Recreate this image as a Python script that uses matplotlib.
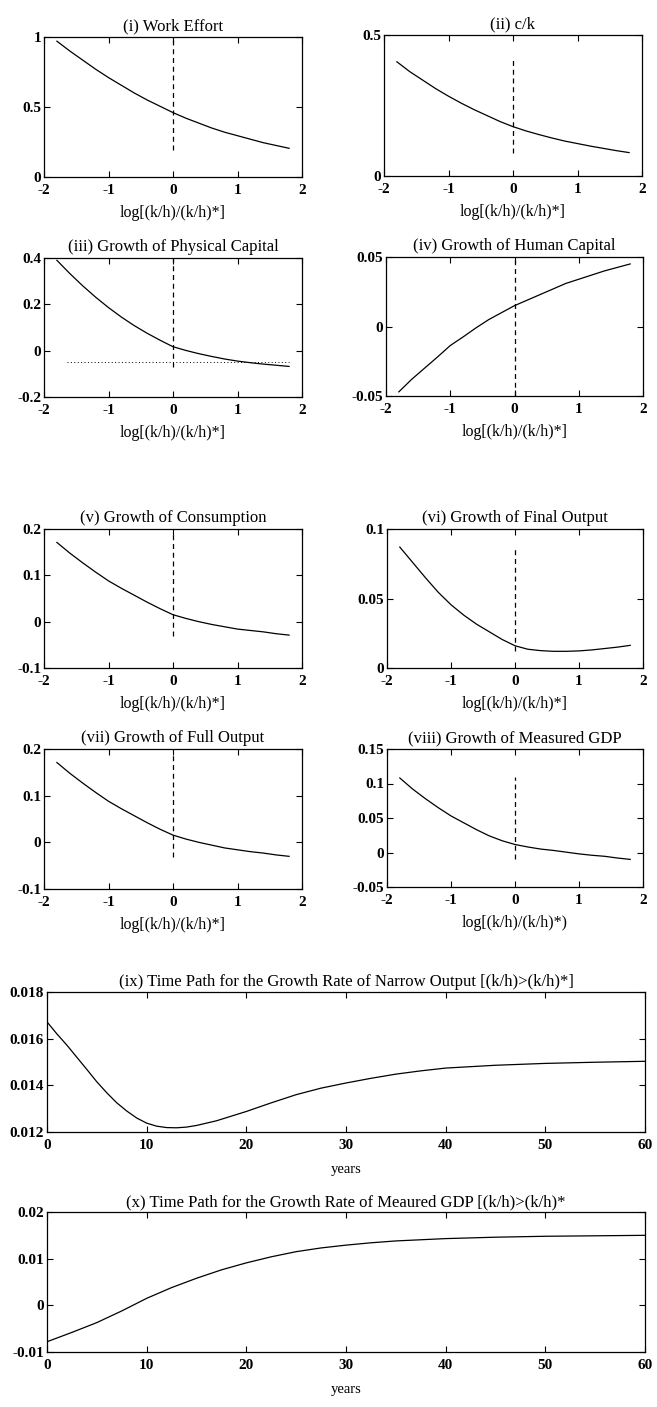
import numpy as np
import matplotlib.pyplot as plt

plt.rcParams['font.family'] = ['Liberation Serif', 'DejaVu Serif']
plt.rcParams['font.size'] = 11

# === DATA ===
x_log = [-1.8, -1.6, -1.4, -1.2, -1.0, -0.8, -0.6, -0.4, -0.2, 0.0,
         0.2, 0.4, 0.6, 0.8, 1.0, 1.2, 1.4, 1.6, 1.8]

work_effort = [0.97, 0.90, 0.835, 0.77, 0.71, 0.655, 0.60, 0.55, 0.505, 0.46,
               0.42, 0.385, 0.35, 0.32, 0.295, 0.27, 0.245, 0.225, 0.205]
c_over_k = [0.405, 0.37, 0.34, 0.31, 0.283, 0.258, 0.235, 0.214, 0.193, 0.175,
            0.16, 0.147, 0.135, 0.124, 0.115, 0.106, 0.098, 0.09, 0.083]
g_phys = [0.39, 0.333, 0.28, 0.231, 0.186, 0.145, 0.108, 0.075, 0.045, 0.017,
          0.001, -0.013, -0.025, -0.036, -0.045, -0.052, -0.058, -0.063, -0.068]
g_human = [-0.047, -0.038, -0.030, -0.022, -0.0137, -0.0075, -0.001, 0.005, 0.010, 0.015,
           0.019, 0.023, 0.027, 0.031, 0.034, 0.037, 0.040, 0.0425, 0.045]
g_cons = [0.171, 0.148, 0.127, 0.107, 0.088, 0.072, 0.057, 0.042, 0.028, 0.015,
          0.007, 0.000, -0.006, -0.011, -0.016, -0.019, -0.022, -0.026, -0.029]
g_final = [0.087, 0.076, 0.065, 0.0545, 0.0455, 0.038, 0.0315, 0.026, 0.0205, 0.016,
           0.0135, 0.0125, 0.012, 0.012, 0.0123, 0.013, 0.014, 0.015, 0.0163]
g_full = [0.171, 0.148, 0.127, 0.107, 0.088, 0.072, 0.057, 0.042, 0.028, 0.0155,
          0.007, 0.000, -0.006, -0.012, -0.016, -0.020, -0.023, -0.027, -0.030]
g_gdp = [0.108, 0.092, 0.078, 0.065, 0.053, 0.043, 0.033, 0.024, 0.017, 0.0116,
         0.008, 0.005, 0.003, 0.0005, -0.002, -0.004, -0.0055, -0.008, -0.010]

phys_dotted_level = -0.048

years_ix = [0, 1, 2, 3, 4, 5, 6, 7, 8, 9, 10, 11, 12, 13, 14, 15, 17, 20,
            22.5, 25, 27.5, 30, 32.5, 35, 37.5, 40, 45, 50, 55, 60]
narrow_out = [0.01672, 0.0162, 0.01572, 0.0152, 0.01468, 0.01415, 0.01368, 0.01325,
              0.0129, 0.0126, 0.01238, 0.01225, 0.01219, 0.01218, 0.01221, 0.01228,
              0.01248, 0.01288, 0.01325, 0.0136, 0.01388, 0.0141, 0.0143, 0.01448,
              0.01462, 0.01474, 0.01486, 0.01494, 0.01499, 0.01503]

years_x = [0, 2.5, 5, 7.5, 10, 12.5, 15, 17.5, 20, 22.5, 25, 27.5, 30, 32.5, 35,
           40, 45, 50, 55, 60]
meas_gdp = [-0.0078, -0.0058, -0.0037, -0.0012, 0.0015, 0.0038, 0.0058, 0.0076,
            0.0091, 0.0104, 0.0115, 0.0123, 0.0129, 0.0134, 0.0138, 0.0143, 0.0146,
            0.0148, 0.0149, 0.0150]

# panels: title, y series, ylim, yticks, ytick labels, dashed span at x=0, xlabel
xlab = 'log[(k/h)/(k/h)*]'
panels = [
    ('(i) Work Effort', work_effort, (0, 1), [0, 0.5, 1], ['0', '0.5', '1'], (0.19, 1.0), xlab),
    ('(ii) c/k', c_over_k, (0, 0.5), [0, 0.5], ['0', '0.5'], (0.083, 0.41), xlab),
    ('(iii) Growth of Physical Capital', g_phys, (-0.2, 0.4), [-0.2, 0, 0.2, 0.4],
     ['-0.2', '0', '0.2', '0.4'], (-0.07, 0.4), xlab),
    ('(iv) Growth of Human Capital', g_human, (-0.05, 0.05), [-0.05, 0, 0.05],
     ['-0.05', '0', '0.05'], (-0.05, 0.05), xlab),
    ('(v) Growth of Consumption', g_cons, (-0.1, 0.2), [-0.1, 0, 0.1, 0.2],
     ['-0.1', '0', '0.1', '0.2'], (-0.032, 0.19), xlab),
    ('(vi) Growth of Final Output', g_final, (0, 0.1), [0, 0.05, 0.1],
     ['0', '0.05', '0.1'], (0.012, 0.087), xlab),
    ('(vii) Growth of Full Output', g_full, (-0.1, 0.2), [-0.1, 0, 0.1, 0.2],
     ['-0.1', '0', '0.1', '0.2'], (-0.032, 0.19), xlab),
    ('(viii) Growth of Measured GDP', g_gdp, (-0.05, 0.15), [-0.05, 0, 0.05, 0.1, 0.15],
     ['-0.05', '0', '0.05', '0.1', '0.15'], (-0.01, 0.11), 'log[(k/h)/(k/h)*)'),
]

# axes boxes in pixels: left, top, right, bottom
W, H = 657, 1407
boxes = [
    (44, 37, 302, 177), (384, 35, 642, 176),
    (44, 258, 302, 397), (386, 257, 643, 396),
    (44, 529, 302, 668), (387, 529, 643, 668),
    (44, 749, 302, 889), (387, 749, 643, 887),
]


def add_axes(fig, box):
    l, t, r, b = box
    return fig.add_axes([l / W, 1 - b / H, (r - l) / W, (b - t) / H])


def style(ax):
    ax.tick_params(direction='in', top=True, right=True, length=4, width=0.8,
                   labelsize=11)
    ax.tick_params(axis='x', pad=5)
    ax.tick_params(axis='y', pad=2)
    for lab in ax.get_xticklabels() + ax.get_yticklabels():
        lab.set_fontweight('bold')
    for s in ax.spines.values():
        s.set_linewidth(0.9)


fig = plt.figure(figsize=(W / 100, H / 100), dpi=100)

for (title, ys, ylim, yt, ytl, dash, xl), box in zip(panels, boxes):
    ax = add_axes(fig, box)
    ax.plot(x_log, ys, color='black', linewidth=0.9)
    ax.plot([0, 0], dash, color='black', linewidth=0.9, linestyle=(0, (4, 3)))
    if title.startswith('(iii)'):
        ax.plot([-1.65, 1.8], [phys_dotted_level] * 2, color='black', linewidth=0.7,
                linestyle=(0, (1, 2.5)))
    ax.set_xlim(-2, 2)
    ax.set_ylim(*ylim)
    ax.set_xticks([-2, -1, 0, 1, 2])
    ax.set_xticklabels(['-2', '-1', '0', '1', '2'])
    ax.set_yticks(yt)
    ax.set_yticklabels(ytl)
    ax.set_title(title, fontsize=12, pad=5)
    ax.set_xlabel(xl, fontsize=11.5, labelpad=6)
    style(ax)

# time paths
ax9 = add_axes(fig, (47, 992, 645, 1132))
ax9.plot(years_ix, narrow_out, color='black', linewidth=0.9)
ax9.set_xlim(0, 60)
ax9.set_ylim(0.012, 0.018)
ax9.set_xticks([0, 10, 20, 30, 40, 50, 60])
ax9.set_yticks([0.012, 0.014, 0.016, 0.018])
ax9.set_yticklabels(['0.012', '0.014', '0.016', '0.018'])
ax9.set_title('(ix) Time Path for the Growth Rate of Narrow Output [(k/h)>(k/h)*]',
              fontsize=12, pad=4)
ax9.set_xlabel('years', fontsize=10.5, labelpad=8)
style(ax9)

ax10 = add_axes(fig, (47, 1212, 645, 1352))
ax10.plot(years_x, meas_gdp, color='black', linewidth=0.9)
ax10.set_xlim(0, 60)
ax10.set_ylim(-0.01, 0.02)
ax10.set_xticks([0, 10, 20, 30, 40, 50, 60])
ax10.set_yticks([-0.01, 0, 0.01, 0.02])
ax10.set_yticklabels(['-0.01', '0', '0.01', '0.02'])
ax10.set_title('(x) Time Path for the Growth Rate of Meaured GDP [(k/h)>(k/h)*',
               fontsize=12, pad=4)
ax10.set_xlabel('years', fontsize=10.5, labelpad=8)
style(ax10)

fig.savefig('out.png', dpi=100)
